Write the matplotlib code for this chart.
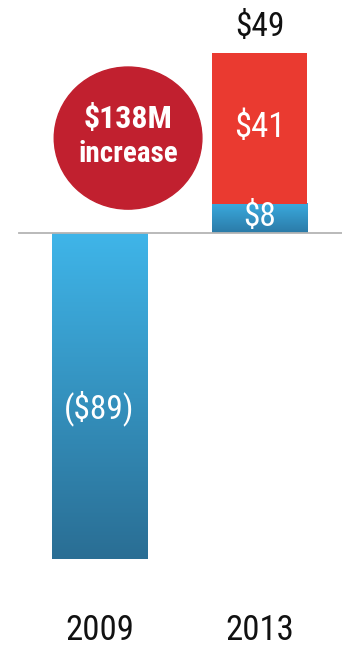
import matplotlib
matplotlib.use("Agg")
import matplotlib.pyplot as plt
import numpy as np
from matplotlib.patches import Ellipse
from matplotlib.colors import LinearSegmentedColormap

plt.rcParams['font.family'] = ['Roboto Condensed', 'Liberation Sans', 'DejaVu Sans']

years = ["2009", "2013"]
base_values = [-89, 8]        # blue segments
upper_values = [0, 41]        # red segment stacked on 2013
totals = [-89, 49]
increase = totals[1] - totals[0]

fig = plt.figure(figsize=(3.42, 6.49), dpi=100)
ax = fig.add_axes([0, 0, 1, 1])
ax.set_xlim(-0.62, 1.511)
ax.set_ylim(-113.6, 63.6)
ax.axis("off")

x = np.arange(len(years))
width = 0.592

blue_cmap = LinearSegmentedColormap.from_list("blue", ["#2a6e94", "#3fb5e9"])
small_cmap = LinearSegmentedColormap.from_list("blue_small", ["#2b7aa7", "#3aaade"])

base_bars = ax.bar(x, base_values, width=width, color="none", zorder=2)
for i, bar in enumerate(base_bars):
    x0 = bar.get_x()
    x1 = x0 + bar.get_width()
    y0 = min(bar.get_y(), bar.get_y() + bar.get_height())
    y1 = max(bar.get_y(), bar.get_y() + bar.get_height())
    grad = np.linspace(0, 1, 256).reshape(-1, 1)
    cmap = blue_cmap if i == 0 else small_cmap
    ax.imshow(grad, extent=(x0, x1, y0, y1), origin="lower", cmap=cmap,
              aspect="auto", zorder=2, interpolation="bicubic")

ax.bar(x[1], upper_values[1], width=width, bottom=base_values[1],
       color="#ea3a30", zorder=2)

ax.axhline(0, xmin=19 / 342, xmax=1, color="#b4b4b4", lw=1.3, zorder=3)

# value labels
ax.text(x[0], base_values[0] * 0.537, f"(${-base_values[0]})", color="white",
        fontsize=24, ha="center", va="center", zorder=4)
ax.text(x[1], base_values[1] / 2 + 0.3, f"${base_values[1]}", color="white",
        fontsize=24, ha="center", va="center", zorder=4)
ax.text(x[1], base_values[1] + upper_values[1] / 2 + 0.3, f"${upper_values[1]}",
        color="white", fontsize=25, ha="center", va="center", zorder=4)
ax.text(x[1], totals[1] + 7.3, f"${totals[1]}", color="#111111",
        fontsize=24, ha="center", va="center", zorder=4)

# increase badge
circle = Ellipse((0.178, 25.9), 0.92, 38.8, color="#c1202f", zorder=3)
ax.add_patch(circle)
ax.text(0.178, 31.0, f"${increase}M", color="white", fontsize=23,
        fontweight="bold", ha="center", va="center", zorder=4)
ax.text(0.178, 21.6, "increase", color="white", fontsize=21,
        fontweight="bold", ha="center", va="center", zorder=4)

# year labels
for xi, yr in zip(x, years):
    ax.text(xi, -108.6, yr, color="#111111", fontsize=25,
            ha="center", va="center")

fig.savefig("out.png", dpi=100)
